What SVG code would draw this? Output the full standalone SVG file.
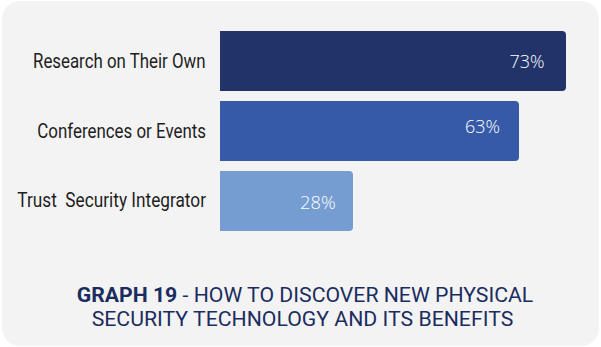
<svg xmlns="http://www.w3.org/2000/svg" width="601" height="347" viewBox="0 0 601 347">
  <style>
    .lbl { font-family: "Roboto", "Liberation Sans", sans-serif; font-size: 20px; fill: #1e1e1e; text-anchor: end; }
    .val { font-family: "Open Sans", "Noto Sans", sans-serif; font-size: 19px; font-weight: 300; fill: #ffffff; text-anchor: start; }
    .ttl { font-family: "Roboto", "Liberation Sans", sans-serif; font-size: 21px; fill: #1b2d5f; }
  </style>
  <rect id="panel" x="2" y="1" width="597" height="345" rx="18" ry="18" fill="#f3f3f3"/>
  <g id="bar-research">
    <path d="M220 31 H562 A4 4 0 0 1 566 35 V87 A4 4 0 0 1 562 91 H220 Z" fill="#22336a"/>
    <text class="lbl" x="205.5" y="68" textLength="172.5" lengthAdjust="spacingAndGlyphs">Research on Their Own</text>
    <text class="val" x="509.5" y="68.3" textLength="35" lengthAdjust="spacingAndGlyphs">73%</text>
  </g>
  <g id="bar-conferences">
    <path d="M220 101 H515 A4 4 0 0 1 519 105 V157 A4 4 0 0 1 515 161 H220 Z" fill="#365aa8"/>
    <text class="lbl" x="206" y="137.7" textLength="168.7" lengthAdjust="spacingAndGlyphs">Conferences or Events</text>
    <text class="val" x="465" y="133.3" textLength="35" lengthAdjust="spacingAndGlyphs">63%</text>
  </g>
  <g id="bar-integrator">
    <path d="M220 171 H349 A4 4 0 0 1 353 175 V227 A4 4 0 0 1 349 231 H220 Z" fill="#759dd2"/>
    <text class="lbl" x="206" y="207.3" textLength="188.7" lengthAdjust="spacingAndGlyphs" xml:space="preserve" style="white-space:pre">Trust  Security Integrator</text>
    <text class="val" x="300" y="208.7" textLength="35.7" lengthAdjust="spacingAndGlyphs">28%</text>
  </g>
  <g id="title">
    <text class="ttl" x="76.7" y="302" textLength="456.6" lengthAdjust="spacingAndGlyphs"><tspan font-weight="bold">GRAPH 19</tspan> - HOW TO DISCOVER NEW PHYSICAL</text>
    <text class="ttl" x="91.7" y="326" textLength="421.6" lengthAdjust="spacingAndGlyphs">SECURITY TECHNOLOGY AND ITS BENEFITS</text>
  </g>
</svg>
